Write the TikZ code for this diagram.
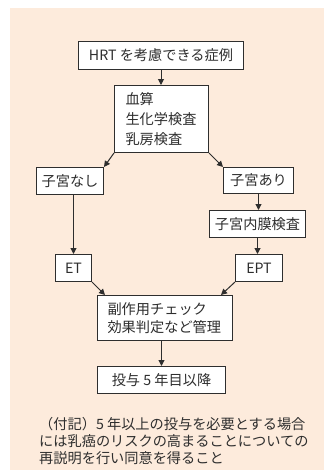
\documentclass[tikz,border=0pt]{standalone}
\usepackage{fontspec}
\setmainfont{Noto Sans CJK JP}
\usetikzlibrary{arrows.meta}
\definecolor{bgpeach}{HTML}{FDEBDC}
\definecolor{ink}{HTML}{2E2E2E}
\begin{document}
\begin{tikzpicture}[x=1pt,y=-1pt,
  box/.style={draw=ink, line width=1pt, fill=white, text=ink, inner sep=0pt,
    font=\fontsize{14.2pt}{20pt}\selectfont, anchor=north west},
  arr/.style={draw=ink, line width=1pt, -{Triangle[length=6pt,width=6pt]}},
  note/.style={text=ink, inner sep=0pt, align=left, anchor=west,
    font=\fontsize{14.2pt}{17pt}\selectfont}]
\useasboundingbox (0,0) rectangle (324,474);
\fill[bgpeach] (10,8) rectangle (324,470);

\node[box, minimum width=165pt, minimum height=28pt] (hrt) at (78,41) {HRT を考慮できる症例};
\node[box, minimum width=94pt, minimum height=67pt, text width=72pt, align=left] (sanzan) at (114,85)
  {血算\\生化学検査\\乳房検査};
\node[box, minimum width=67pt, minimum height=27pt] (nashi) at (36,167) {子宮なし};
\node[box, minimum width=70pt, minimum height=26pt] (ari) at (223,167) {子宮あり};
\node[box, minimum width=96pt, minimum height=27pt] (naimaku) at (209,210) {子宮内膜検査};
\node[box, minimum width=36pt, minimum height=27pt] (et) at (55,254) {ET};
\node[box, minimum width=47pt, minimum height=27pt] (ept) at (235,254) {EPT};
\node[box, minimum width=135pt, minimum height=45pt, text width=115pt, align=left,
  font=\fontsize{14.2pt}{18pt}\selectfont] (fuku) at (97,295)
  {副作用チェック\\効果判定など管理};
\node[box, minimum width=128pt, minimum height=27pt] (toyo) at (97,366) {投与 5 年目以降};

\node[note] (memo) at (39,441)
  {（付記）5 年以上の投与を必要とする場合\\には乳癌のリスクの高まることについての\\再説明を行い同意を得ること};

\draw[arr] (hrt.south) -- (hrt.south |- sanzan.north);
\draw[arr] (sanzan.south west) -- (nashi.north east);
\draw[arr] (sanzan.south east) -- (ari.north west);
\draw[arr] (nashi.south -| et.north) -- (et.north);
\draw[arr] (ari.south) -- (ari.south |- naimaku.north);
\draw[arr] (naimaku.south) -- (naimaku.south |- ept.north);
\draw[arr] (et.south east) -- ([xshift=8pt]fuku.north west);
\draw[arr] (ept.south west) -- ([xshift=-12pt]fuku.north east);
\draw[arr] (fuku.south -| toyo.north) -- (toyo.north);
\end{tikzpicture}
\end{document}
